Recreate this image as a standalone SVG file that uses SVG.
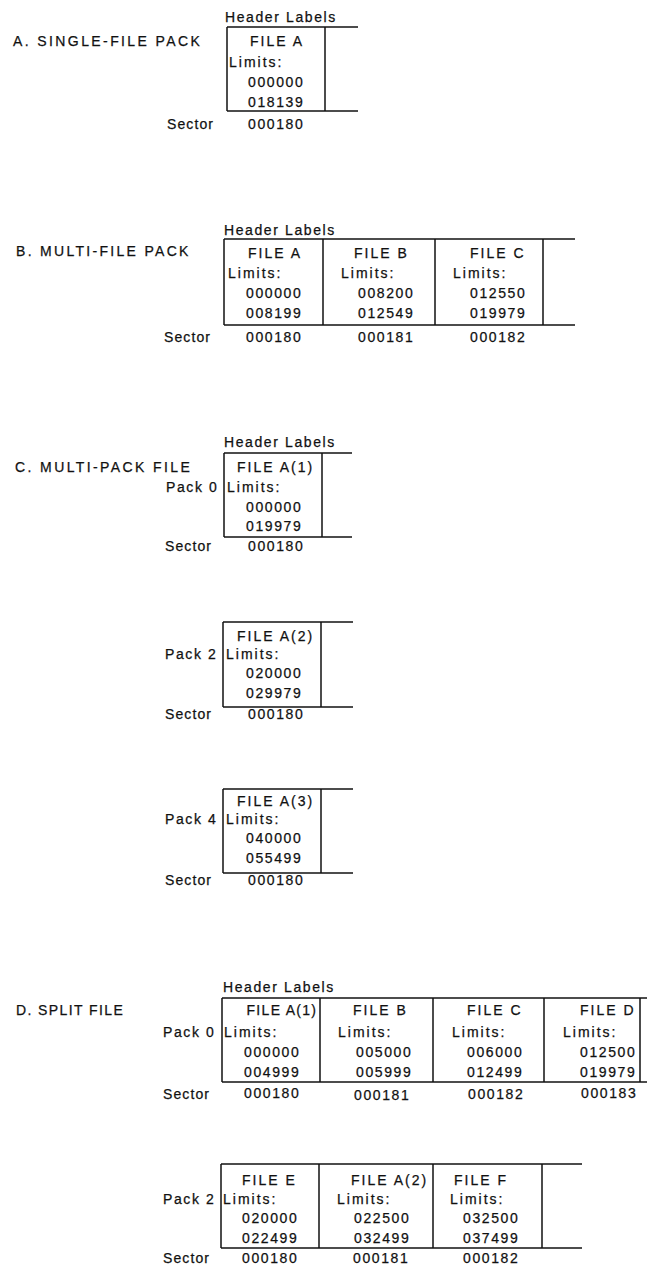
<svg xmlns="http://www.w3.org/2000/svg" width="647" height="1265" viewBox="0 0 647 1265">
<style>
text{font-family:"Liberation Sans",Arial,sans-serif;font-size:14px;fill:#111;stroke:#111;stroke-width:0.25}
.t{letter-spacing:2.4px}
.h{letter-spacing:1.6px}
.f{letter-spacing:2px}
.l{letter-spacing:2px}
.n{letter-spacing:1.6px}
.s{letter-spacing:1.1px}
.p{letter-spacing:1.6px}
line{stroke:#111;stroke-width:1.5;fill:none}
</style>
<rect width="647" height="1265" fill="#fff"/>

<!-- Section A -->
<g id="sectionA">
<text class="t" x="13" y="46">A. SINGLE-FILE PACK</text>
<text class="h" x="225" y="22">Header Labels</text>
<text class="s" x="167" y="129">Sector</text>
<g id="A-frame">
<line x1="227" y1="27" x2="358" y2="27"/>
<line x1="227" y1="111" x2="358" y2="111"/>
<line x1="227" y1="27" x2="227" y2="111"/>
<line x1="325" y1="27" x2="325" y2="111"/>
</g>
<g id="A-fileA">
<text class="f" x="250" y="46">FILE A</text>
<text class="l" x="229" y="67">Limits:</text>
<text class="n" x="248" y="87">000000</text>
<text class="n" x="248" y="107">018139</text>
<text class="n" x="248" y="129">000180</text>
</g>
</g>

<!-- Section B -->
<g id="sectionB">
<text class="t" x="16" y="256" style="letter-spacing:2.3px">B. MULTI-FILE PACK</text>
<text class="h" x="224" y="235">Header Labels</text>
<text class="s" x="164" y="342">Sector</text>
<g id="B-frame">
<line x1="224" y1="239" x2="575" y2="239"/>
<line x1="224" y1="325" x2="575" y2="325"/>
<line x1="224" y1="239" x2="224" y2="325"/>
<line x1="323" y1="239" x2="323" y2="325"/>
<line x1="435" y1="239" x2="435" y2="325"/>
<line x1="543" y1="239" x2="543" y2="325"/>
</g>
<g id="B-fileA">
<text class="f" x="248" y="258">FILE A</text>
<text class="l" x="228" y="278">Limits:</text>
<text class="n" x="246" y="298">000000</text>
<text class="n" x="246" y="318">008199</text>
<text class="n" x="246" y="342">000180</text>
</g>
<g id="B-fileB">
<text class="f" x="354" y="258">FILE B</text>
<text class="l" x="341" y="278">Limits:</text>
<text class="n" x="358" y="298">008200</text>
<text class="n" x="358" y="318">012549</text>
<text class="n" x="358" y="342">000181</text>
</g>
<g id="B-fileC">
<text class="f" x="470" y="258">FILE C</text>
<text class="l" x="453" y="278">Limits:</text>
<text class="n" x="470" y="298">012550</text>
<text class="n" x="470" y="318">019979</text>
<text class="n" x="470" y="342">000182</text>
</g>
</g>

<!-- Section C -->
<g id="sectionC">
<text class="t" x="15" y="472">C. MULTI-PACK FILE</text>
<text class="h" x="224" y="447">Header Labels</text>
<g id="C-pack0">
<line x1="224" y1="453" x2="352" y2="453"/>
<line x1="224" y1="537" x2="352" y2="537"/>
<line x1="224" y1="453" x2="224" y2="537"/>
<line x1="322" y1="453" x2="322" y2="537"/>
<text class="p" x="166" y="492">Pack 0</text>
<text class="f" x="237" y="472">FILE A(1)</text>
<text class="l" x="227" y="492">Limits:</text>
<text class="n" x="246" y="512">000000</text>
<text class="n" x="246" y="531">019979</text>
<text class="s" x="165" y="551">Sector</text>
<text class="n" x="248" y="551">000180</text>
</g>
<g id="C-pack2">
<line x1="223" y1="622" x2="353" y2="622"/>
<line x1="223" y1="707" x2="353" y2="707"/>
<line x1="223" y1="622" x2="223" y2="707"/>
<line x1="321" y1="622" x2="321" y2="707"/>
<text class="f" x="237" y="641">FILE A(2)</text>
<text class="p" x="165" y="659">Pack 2</text>
<text class="l" x="226" y="659">Limits:</text>
<text class="n" x="246" y="678">020000</text>
<text class="n" x="246" y="698">029979</text>
<text class="s" x="165" y="718.5">Sector</text>
<text class="n" x="248" y="718.5">000180</text>
</g>
<g id="C-pack4">
<line x1="223" y1="789" x2="353" y2="789"/>
<line x1="223" y1="873" x2="353" y2="873"/>
<line x1="223" y1="789" x2="223" y2="873"/>
<line x1="321" y1="789" x2="321" y2="873"/>
<text class="f" x="237" y="806">FILE A(3)</text>
<text class="p" x="165" y="824">Pack 4</text>
<text class="l" x="226" y="824">Limits:</text>
<text class="n" x="246" y="843">040000</text>
<text class="n" x="246" y="863">055499</text>
<text class="s" x="165" y="884.5">Sector</text>
<text class="n" x="248" y="884.5">000180</text>
</g>
</g>

<!-- Section D -->
<g id="sectionD">
<text class="t" x="16" y="1015" style="letter-spacing:1.4px">D. SPLIT FILE</text>
<text class="h" x="223" y="992">Header Labels</text>
<g id="D-pack0">
<g id="D-pack0-frame">
<line x1="222" y1="998" x2="647" y2="998"/>
<line x1="222" y1="1082" x2="647" y2="1082"/>
<line x1="222" y1="998" x2="222" y2="1082"/>
<line x1="320" y1="998" x2="320" y2="1082"/>
<line x1="433" y1="998" x2="433" y2="1082"/>
<line x1="544" y1="998" x2="544" y2="1082"/>
<line x1="640" y1="998" x2="640" y2="1082"/>
</g>
<text class="p" x="163" y="1037">Pack 0</text>
<text class="s" x="163" y="1099">Sector</text>
<g id="D0-fileA1">
<text class="f" x="246.5" y="1015" style="letter-spacing:1.3px">FILE A(1)</text>
<text class="l" x="224" y="1037">Limits:</text>
<text class="n" x="244" y="1057">000000</text>
<text class="n" x="244" y="1077">004999</text>
<text class="n" x="244" y="1098">000180</text>
</g>
<g id="D0-fileB">
<text class="f" x="353" y="1015">FILE B</text>
<text class="l" x="338" y="1037">Limits:</text>
<text class="n" x="356" y="1057">005000</text>
<text class="n" x="356" y="1077">005999</text>
<text class="n" x="354" y="1100">000181</text>
</g>
<g id="D0-fileC">
<text class="f" x="467" y="1015">FILE C</text>
<text class="l" x="452" y="1037">Limits:</text>
<text class="n" x="467" y="1057">006000</text>
<text class="n" x="467" y="1077">012499</text>
<text class="n" x="468" y="1099">000182</text>
</g>
<g id="D0-fileD">
<text class="f" x="580" y="1015">FILE D</text>
<text class="l" x="563" y="1037">Limits:</text>
<text class="n" x="580" y="1057">012500</text>
<text class="n" x="580" y="1077">019979</text>
<text class="n" x="581" y="1098">000183</text>
</g>
</g>
<g id="D-pack2">
<g id="D-pack2-frame">
<line x1="221" y1="1164" x2="582" y2="1164"/>
<line x1="221" y1="1248" x2="582" y2="1248"/>
<line x1="221" y1="1164" x2="221" y2="1248"/>
<line x1="319" y1="1164" x2="319" y2="1248"/>
<line x1="433" y1="1164" x2="433" y2="1248"/>
<line x1="542" y1="1164" x2="542" y2="1248"/>
</g>
<text class="p" x="163" y="1204">Pack 2</text>
<text class="s" x="163" y="1263">Sector</text>
<g id="D2-fileE">
<text class="f" x="242" y="1185">FILE E</text>
<text class="l" x="223" y="1204">Limits:</text>
<text class="n" x="242" y="1223">020000</text>
<text class="n" x="242" y="1243">022499</text>
<text class="n" x="242" y="1263">000180</text>
</g>
<g id="D2-fileA2">
<text class="f" x="351" y="1185">FILE A(2)</text>
<text class="l" x="337" y="1204">Limits:</text>
<text class="n" x="354" y="1223">022500</text>
<text class="n" x="354" y="1243">032499</text>
<text class="n" x="353" y="1263">000181</text>
</g>
<g id="D2-fileF">
<text class="f" x="454" y="1185">FILE F</text>
<text class="l" x="450" y="1204">Limits:</text>
<text class="n" x="463" y="1223">032500</text>
<text class="n" x="463" y="1243">037499</text>
<text class="n" x="463" y="1263">000182</text>
</g>
</g>
</g>
<g id="connectors"/>
</svg>
